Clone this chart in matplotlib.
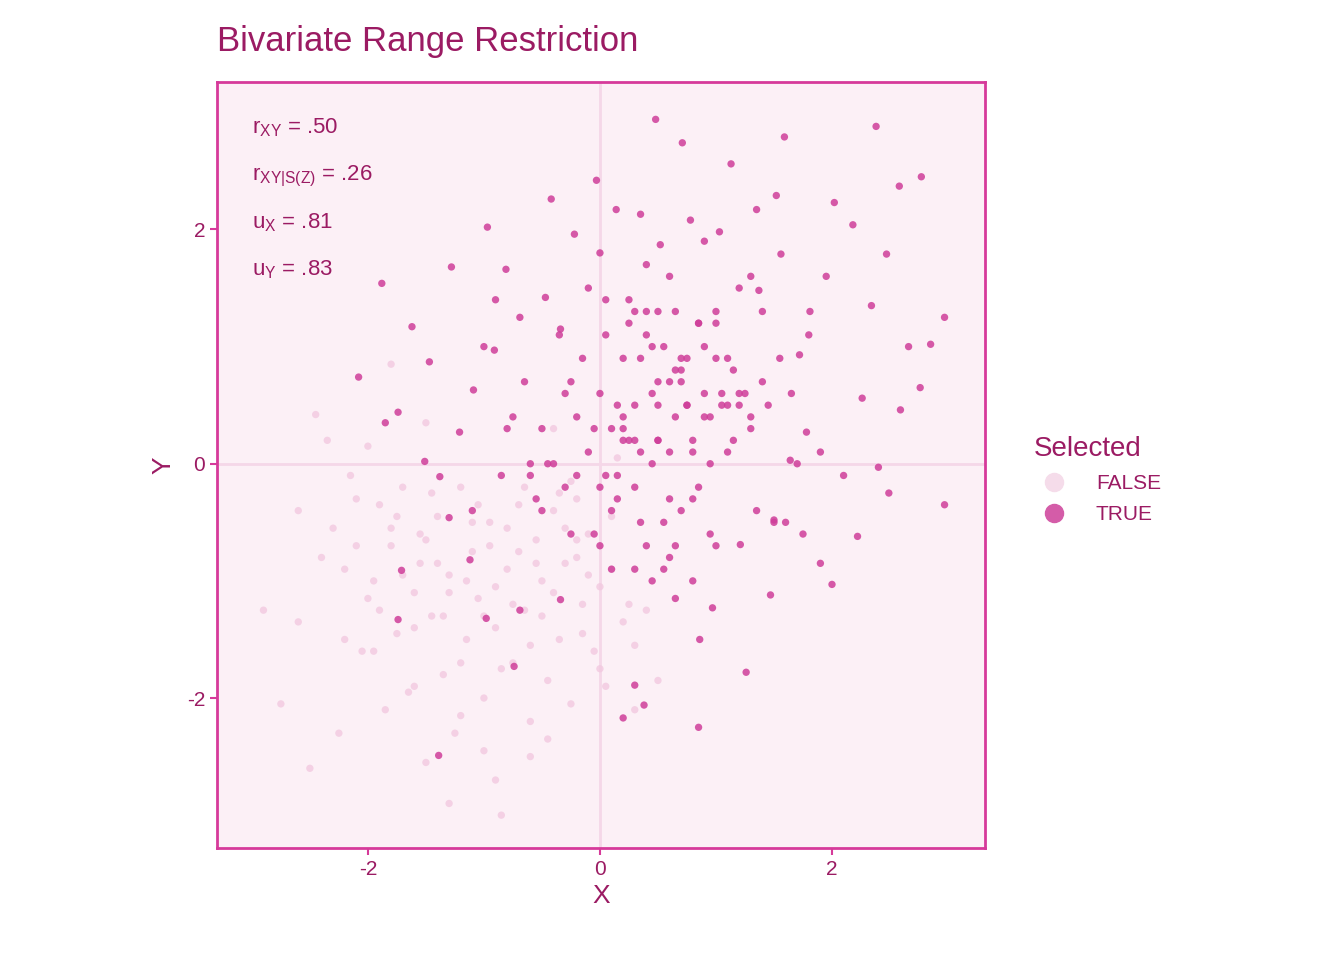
import matplotlib
matplotlib.use("Agg")
import matplotlib.pyplot as plt
from matplotlib.lines import Line2D

plt.rcParams['font.family'] = ['Liberation Sans', 'DejaVu Sans']
plt.rcParams['mathtext.fontset'] = 'custom'
plt.rcParams['mathtext.rm'] = 'Liberation Sans'
plt.rcParams['mathtext.it'] = 'Liberation Sans'

# Selected (TRUE) points
true_x = [0.48,0.71,2.38,1.59,1.13,-0.03,2.77,-0.42,-0.97,-0.22,-1.88,-1.28,-0.81,-1.62,-1.47,-2.08,-1.85,-1.74,
          2.97,2.49,2.22,2.0,1.9,1.26,0.85,0.38,0.2,0.3,-0.74,-1.39,-1.74,-1.71,2.58,2.97,2.85,2.66,2.76,2.59,2.26,2.4,
          2.02,2.18,2.47,2.34,1.95,1.81,1.72,1.78,1.64,1.5,1.21,1.47,0.97,0.65,0.86,-0.34,-0.69,-0.98,-1.12,-1.3,-1.38,
          -1.51,-1.21,-1.09,-0.91,-0.69,-0.47,-0.34,0.14,0.35,0.52,0.78,1.03,1.35,1.52,1.56,1.37,
          0.1,0.3,0.5,0.7,0.9,1.1,1.3,-0.1,-0.3,-0.5,0.2,0.4,0.6,0.8,1.0,1.2,0.0,-0.2,-0.4,0.15,0.45,0.65,0.85,1.05,
          0.25,0.55,0.75,0.95,-0.05,-0.25,0.35,0.05,0.6,0.9,1.15,1.4,-0.6,-0.8,0.3,0.7,1.6,1.8,0.2,0.5,0.0,-0.15,
          0.4,0.8,1.1,1.3,0.1,-0.35,0.55,1.0,1.25,0.65,0.3,-0.55,-0.75,0.95,1.45,1.7,0.15,0.45,0.75,-0.05,0.25,
          0.5,0.85,1.2,-0.2,0.6,1.55,1.9,0.35,0.05,-0.45,0.7,1.05,0.4,0.9,0.2,1.35,-0.65,-1.0,0.55,0.8,1.15,0.0,
          0.3,0.65,1.0,0.1,0.45,0.75,1.3,-0.3,-0.1,0.6,0.95,1.5,0.2,0.5,0.85,-0.5,0.4,1.1,1.75,2.1,0.25,0.7,
          -0.85,-1.1,-0.6,-0.9,0.05,0.35,0.65,0.15,0.9,1.2,0.5,0.8,-0.25,1.4,1.65,0.3,0.6,0.0,0.45,1.0]
true_y = [2.94,2.74,2.88,2.79,2.56,2.42,2.45,2.26,2.02,1.96,1.54,1.68,1.66,1.17,0.87,0.74,0.35,0.44,
          -0.35,-0.25,-0.62,-1.03,-0.85,-1.78,-2.25,-2.06,-2.17,-1.89,-1.73,-2.49,-1.33,-0.91,2.37,1.25,1.02,1.0,0.65,0.46,0.56,-0.03,
          2.23,2.04,1.79,1.35,1.6,1.3,0.93,0.27,0.03,-0.48,-0.69,-1.12,-1.23,-1.15,-1.5,-1.16,-1.25,-1.32,-0.82,-0.46,-0.11,
          0.02,0.27,0.63,0.97,1.25,1.42,1.15,2.17,2.13,1.87,2.08,1.98,2.17,2.29,1.79,1.48,
          0.3,0.5,0.2,0.8,0.4,0.9,0.3,0.1,-0.2,-0.4,0.9,1.1,0.7,0.1,1.2,0.6,0.6,0.4,0.0,-0.3,0.0,1.3,-0.2,0.5,
          1.4,1.0,0.5,0.0,-0.6,0.7,-0.5,1.1,-0.8,1.0,0.2,0.7,-0.1,0.3,0.2,0.7,-0.5,1.1,0.4,1.3,1.8,0.9,-0.7,0.2,
          0.5,1.6,-0.4,1.1,-0.9,-0.7,0.6,0.8,-0.2,-0.3,0.4,-0.6,0.5,0.0,-0.1,0.6,0.5,0.3,0.2,0.7,1.2,1.5,
          -0.1,-0.3,0.9,0.1,0.9,1.4,0.0,-0.4,0.6,1.3,0.6,0.3,-0.4,0.7,1.0,-0.5,-0.3,0.8,-0.7,-0.9,0.4,0.9,-0.9,
          -1.0,0.9,0.4,0.6,1.5,1.6,0.4,-0.5,0.2,0.5,1.2,0.3,1.7,0.1,-0.6,-0.1,1.2,0.9,-0.1,-0.4,0.0,1.4,
          -0.1,0.1,-0.7,0.5,1.9,0.5,0.2,-1.0,-0.6,1.3,0.6,1.3,0.1,-0.2,1.0,1.3,-0.3,0.8,-0.8,0.2,0.2,0.6]

# Not selected (FALSE) points
false_x = [-2.9,-2.75,-2.6,-2.5,-2.45,-2.3,-2.25,-2.2,-2.1,-2.05,-2.0,-1.95,-1.9,-1.85,-1.8,-1.75,-1.7,-1.65,
           -1.6,-1.55,-1.5,-1.45,-1.4,-1.35,-1.3,-1.25,-1.2,-1.15,-1.1,-1.05,-1.0,-0.95,-0.9,-0.85,-0.8,-0.75,
           -0.7,-0.65,-0.6,-0.55,-0.5,-0.45,-0.4,-0.35,-0.3,-0.25,-0.2,-0.15,-0.1,-0.05,0.0,0.05,0.1,0.2,0.3,0.4,
           -2.4,-2.2,-2.0,-1.8,-1.6,-1.4,-1.2,-1.0,-0.8,-0.6,-0.4,-0.2,0.0,0.25,-1.9,-1.7,-1.5,-1.3,-1.1,-0.9,
           -0.7,-0.5,-0.3,-0.1,-2.15,-1.95,-1.75,-1.55,-1.35,-1.15,-0.95,-0.75,-0.55,-0.35,-0.15,0.1,-1.6,-1.2,
           -0.85,-0.45,-1.45,-1.05,-0.65,-0.25,-2.6,-2.35,-1.0,-0.9,-1.3,-0.6,0.3,0.5,-1.8,-2.1,-0.2,0.15,-1.5,-0.4]
false_y = [-1.25,-2.05,-1.35,-2.6,0.42,-0.55,-2.3,-0.9,-0.3,-1.6,0.15,-1.0,-0.35,-2.1,-0.7,-1.45,-0.2,-1.95,
           -1.1,-0.6,-2.55,-1.3,-0.45,-1.8,-0.95,-2.3,-0.2,-1.5,-0.75,-1.15,-2.0,-0.5,-1.4,-3.0,-0.9,-1.7,
           -0.35,-1.25,-2.2,-0.65,-1.0,-1.85,-0.4,-1.5,-0.85,-2.05,-0.3,-1.2,-0.6,-1.6,-1.05,-1.9,-0.45,-1.35,-1.55,-1.25,
           -0.8,-1.5,-1.15,-0.55,-1.4,-0.85,-1.7,-1.3,-0.55,-1.55,-1.1,-0.8,-1.75,-1.2,-1.25,-0.95,-0.65,-1.1,
           -0.5,-1.05,-0.75,-1.3,-0.55,-0.95,-0.1,-1.6,-0.45,-0.85,-1.3,-1.0,-0.7,-1.2,-0.85,-0.25,-1.45,-0.9,-1.9,-2.15,
           -1.75,-2.35,-0.25,-0.35,-0.2,-0.15,-0.4,0.2,-2.45,-2.7,-2.9,-2.5,-2.1,-1.85,0.85,-0.7,-0.65,0.05,0.35,0.3]

text_col = '#9B1B63'
true_col = '#CF3D99'
false_col = '#F2C9E0'

nt = min(len(true_x), len(true_y))
nf = min(len(false_x), len(false_y))

fig = plt.figure(figsize=(13.44, 9.6), dpi=100)
ax = fig.add_axes([0.1615, 0.1167, 0.5715, 0.798])
ax.set_facecolor('#FCF0F6')
ax.axhline(0, color='#F5D7E8', lw=2, zorder=0)
ax.axvline(0, color='#F5D7E8', lw=2, zorder=0)
ax.scatter(false_x[:nf], false_y[:nf], s=28, color=false_col, alpha=0.8, edgecolors='none', zorder=2)
ax.scatter(true_x[:nt], true_y[:nt], s=28, color=true_col, alpha=0.85, edgecolors='none', zorder=3)
ax.set_xlim(-3.3, 3.32)
ax.set_ylim(-3.28, 3.26)
ax.set_xticks([-2, 0, 2])
ax.set_yticks([-2, 0, 2])
ax.set_xticklabels(['-2', '0', '2'])
ax.set_yticklabels(['-2', '0', '2'])
for s in ax.spines.values():
    s.set_color('#D63A9A'); s.set_linewidth(2)
ax.tick_params(colors='#D63A9A', labelsize=15, length=5, width=1.5, labelcolor=text_col)
ax.set_xlabel('X', color=text_col, fontsize=19, labelpad=4)
ax.set_ylabel('Y', color=text_col, fontsize=19, labelpad=8)
fig.text(0.1615, 0.94, 'Bivariate Range Restriction', color=text_col, fontsize=25, ha='left', va='bottom')

labels = [r'r$_{\mathrm{XY}}$ = .50', r'r$_{\mathrm{XY|S(Z)}}$ = .26', r'u$_{\mathrm{X}}$ = .81', r'u$_{\mathrm{Y}}$ = .83']
for i, t in enumerate(labels):
    ax.text(0.045, 0.955 - i * 0.062, t, transform=ax.transAxes, color=text_col, fontsize=16, va='top', ha='left')

handles = [Line2D([], [], marker='o', ls='', color='#F5DCEA', markersize=13),
           Line2D([], [], marker='o', ls='', color='#D45CA8', markersize=13)]
leg = fig.legend(handles, ['FALSE', 'TRUE'], title='Selected', loc='center left',
                 bbox_to_anchor=(0.755, 0.5), frameon=False, fontsize=15, title_fontsize=20,
                 labelcolor=text_col, handletextpad=1.0, labelspacing=0.6)
leg.get_title().set_color(text_col)
leg._legend_box.align = 'left'
fig.savefig('out.png', dpi=100)
